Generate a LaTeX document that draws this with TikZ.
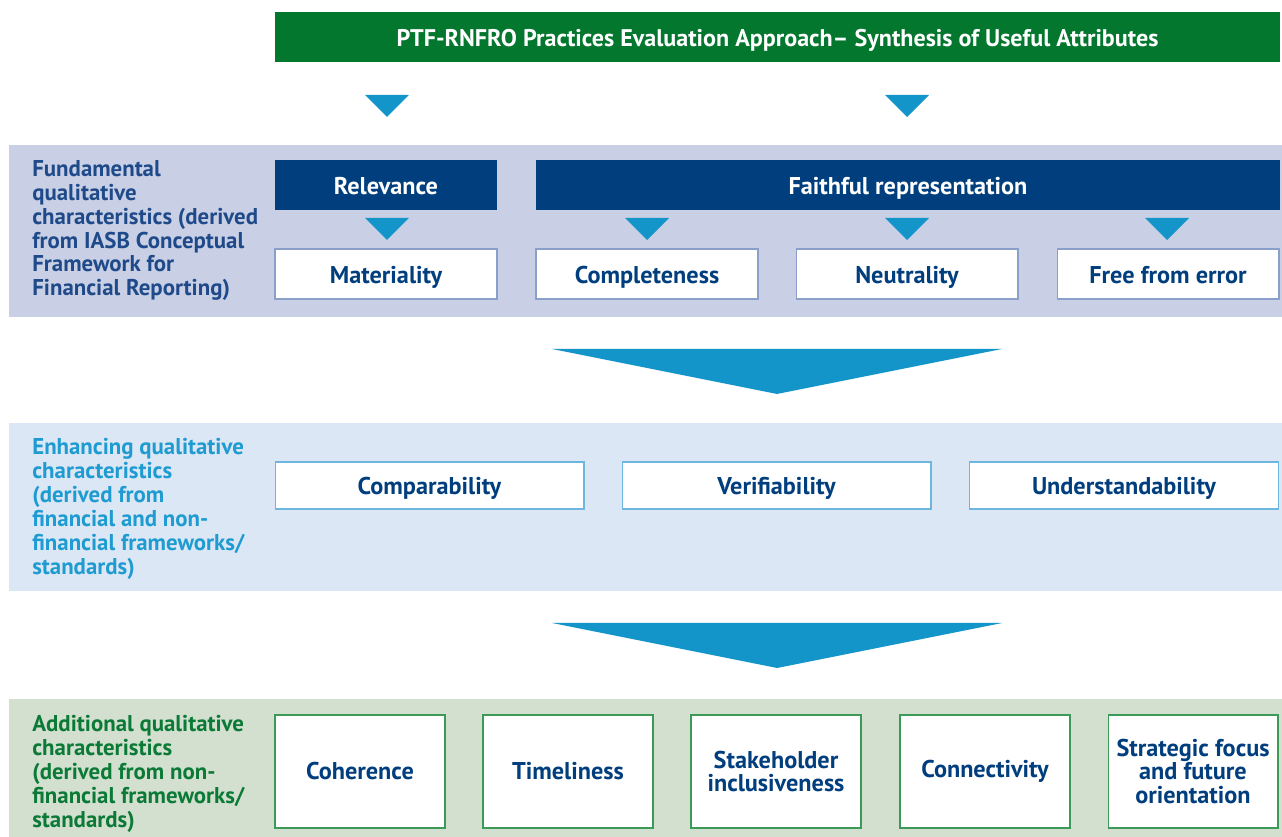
\documentclass[tikz,border=0pt]{standalone}
\usepackage{fontspec}
\setmainfont{PT Sans}
\usetikzlibrary{calc}
\definecolor{topgreen}{HTML}{04772F}
\definecolor{darkblue}{HTML}{003E7E}
\definecolor{triblue}{HTML}{1495C9}
\definecolor{bandone}{HTML}{C9D0E5}
\definecolor{bandtwo}{HTML}{DCE7F5}
\definecolor{bandthree}{HTML}{D3DFCF}
\definecolor{edgeone}{HTML}{8AA0CB}
\definecolor{edgetwo}{HTML}{6DB6DF}
\definecolor{edgethree}{HTML}{3C9A58}
\definecolor{labone}{HTML}{1F4A8A}
\definecolor{labtwo}{HTML}{1E9BD1}
\definecolor{labthree}{HTML}{0B7A36}
\def\smalltri(#1,#2){\fill[triblue] (#1-22,#2) -- (#1+22,#2) -- (#1,#2+22) -- cycle;}
\def\bigtri(#1){\fill[triblue] (552,#1) -- (1002,#1) -- (777,#1+45) -- cycle;}
\tikzset{
  boxtext/.style={font=\fontsize{13.8}{13.6}\selectfont\bfseries, text=darkblue, align=center, inner sep=0pt},
  oneline/.style={text height=1.05em, text depth=0em},
  headbox/.style={boxtext, oneline, fill=darkblue, text=white, minimum height=1cm},
  whitebox/.style={boxtext, oneline, fill=white, draw=#1, line width=0.6pt},
  tallbox/.style={boxtext, fill=white, draw=edgethree, line width=0.6pt, minimum width=3.4cm, minimum height=2.26cm},
  sidelabel/.style={font=\fontsize{13}{13.6}\selectfont\bfseries, align=left, anchor=north west, inner sep=0pt, text=#1}
}

\begin{document}
\begin{tikzpicture}[x=0.02cm, y=-0.02cm]
		\useasboundingbox (0,0) rectangle (1282,837);
		%%%%% bands %%%%%
		\fill[bandone] (9,145) rectangle (1282,317);
		\fill[bandtwo] (9,423) rectangle (1282,591);
		\fill[bandthree] (9,699) rectangle (1282,837);
		
		%%%%% title %%%%%
		\node[boxtext, oneline, fill=topgreen, text=white, font=\fontsize{13.7}{14}\selectfont\bfseries, minimum width=20.1cm, minimum height=1cm] (title) at (777.5,37) {PTF-RNFRO Practices Evaluation Approach– Synthesis of Useful Attributes};
		\smalltri(387,95)
		\smalltri(907,95)
		
		%%%%% fundamental %%%%%
		\node[sidelabel=labone] (fundlab) at (32,160) {Fundamental\\qualitative\\characteristics (derived\\from IASB Conceptual\\Framework for\\Financial Reporting)};
		\node[headbox, minimum width=4.44cm] (relev) at (386,185) {Relevance};
		\node[headbox, minimum width=14.88cm] (faith) at (908,185) {Faithful representation};
		\smalltri(387,218)
		\smalltri(647,218)
		\smalltri(907,218)
		\smalltri(1167,218)
		\node[whitebox=edgeone, minimum width=4.44cm, minimum height=1cm] (mater) at (386,274) {Materiality};
		\node[whitebox=edgeone, minimum width=4.44cm, minimum height=1cm] (compl) at (647,274) {Completeness};
		\node[whitebox=edgeone, minimum width=4.44cm, minimum height=1cm] (neutr) at (907,274) {Neutrality};
		\node[whitebox=edgeone, minimum width=4.44cm, minimum height=1cm] (error) at (1168,274) {Free from error};
		
		\bigtri(349)
		
		%%%%% enhancing %%%%%
		\node[sidelabel=labtwo] (enhlab) at (32,438) {Enhancing qualitative\\characteristics\\(derived from\\financial and non-\\financial frameworks/\\standards)};
		\node[whitebox=edgetwo, minimum width=6.18cm, minimum height=0.94cm] (compa) at (429.5,485.5) {Comparability};
		\node[whitebox=edgetwo, minimum width=6.18cm, minimum height=0.94cm] (verif) at (776.5,485.5) {Verifiability};
		\node[whitebox=edgetwo, minimum width=6.18cm, minimum height=0.94cm] (under) at (1124,485.5) {Understandability};
		
		\bigtri(623)
		
		%%%%% additional %%%%%
		\node[sidelabel=labthree] (addlab) at (32,715) {Additional qualitative\\characteristics\\(derived from non-\\financial frameworks/\\standards)};
		\node[tallbox] (coher) at (360,771.5) {Coherence};
		\node[tallbox] (timel) at (568,771.5) {Timeliness};
		\node[tallbox] (stake) at (776,771.5) {Stakeholder\\inclusiveness};
		\node[tallbox] (conne) at (985,771.5) {Connectivity};
		\node[tallbox] (strat) at (1193,771.5) {Strategic focus\\and future\\orientation};
	\end{tikzpicture}
\end{document}
